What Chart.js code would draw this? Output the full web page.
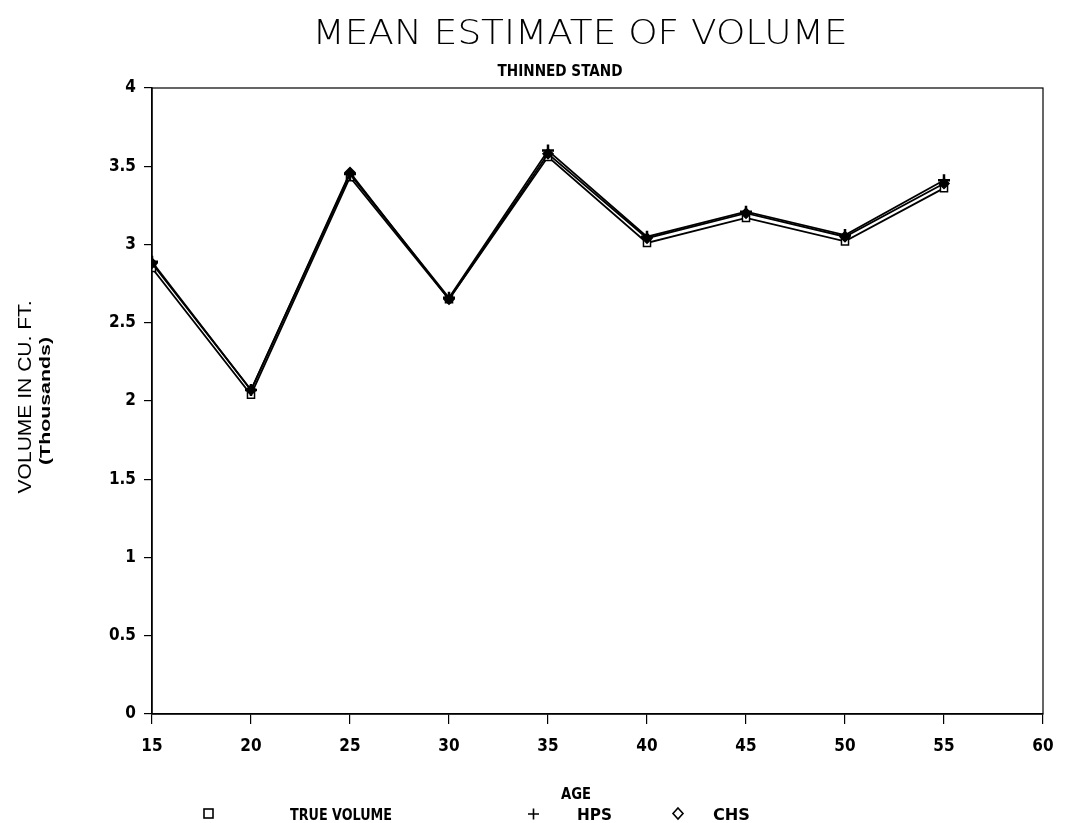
<!DOCTYPE html>
<html><head><meta charset="utf-8">
<script src="https://cdn.jsdelivr.net/npm/chart.js@4"></script>
<style>html,body{margin:0;padding:0;background:#fff}#wrap{width:1083px;height:823px}</style>
</head><body><div id="wrap"><canvas id="c" width="1083" height="823"></canvas></div>
<script>
const ages = [15, 20, 25, 30, 35, 40, 45, 50, 55];
const trueVolume = [2.85, 2.04, 3.43, 2.65, 3.56, 3.01, 3.17, 3.02, 3.36];
const hps = [2.89, 2.07, 3.45, 2.66, 3.60, 3.05, 3.21, 3.06, 3.41];
const chs = [2.88, 2.07, 3.46, 2.65, 3.58, 3.04, 3.20, 3.05, 3.39];
const xTickValues = [15, 20, 25, 30, 35, 40, 45, 50, 55, 60];
const yTickValues = [0, 0.5, 1, 1.5, 2, 2.5, 3, 3.5, 4];
const yTickLabels = ['0', '0.5', '1', '1.5', '2', '2.5', '3', '3.5', '4'];
const titleText = 'MEAN ESTIMATE OF VOLUME';
const subtitleText = 'THINNED STAND';
const yTitle1 = 'VOLUME IN CU. FT.';
const yTitle2 = '(Thousands)';
const xTitle = 'AGE';
const seriesNames = ['TRUE VOLUME', 'HPS', 'CHS'];

const NARROW = "'Liberation Sans Narrow','DejaVu Sans Condensed','Arial Narrow','Liberation Sans',sans-serif";

function pts(vals){ return ages.map((a,i)=>({x:a, y:vals[i]})); }

function fitText(ctx, text, cx, cy, width, font, rot){
  ctx.save();
  ctx.font = font;
  const w = ctx.measureText(text).width;
  ctx.translate(cx, cy);
  if (rot) ctx.rotate(rot);
  ctx.scale(width / w, 1);
  ctx.textAlign = 'center';
  ctx.textBaseline = 'alphabetic';
  ctx.fillStyle = '#000';
  ctx.fillText(text, 0, 0);
  ctx.restore();
}

const decor = {
  id: 'decor',
  afterDraw(chart){
    const ctx = chart.ctx;
    const a = chart.chartArea;
    ctx.save();
    ctx.strokeStyle = '#000';
    ctx.lineWidth = 1.2;
    ctx.strokeRect(a.left, a.top, a.right - a.left, a.bottom - a.top);
    ctx.restore();
    fitText(ctx, titleText, 580, 44, 535, "200 34px 'DejaVu Sans','Liberation Sans',sans-serif");
    fitText(ctx, subtitleText, 560, 76, 125, "bold 15px " + NARROW);
    fitText(ctx, yTitle1, 31, 397, 193, "18px 'Liberation Sans',sans-serif", -Math.PI/2);
    fitText(ctx, yTitle2, 50, 401, 128, "bold 15px 'Liberation Sans',sans-serif", -Math.PI/2);
    fitText(ctx, xTitle, 576, 799, 30, "bold 16px " + NARROW);
    // legend
    ctx.save();
    ctx.strokeStyle = '#000';
    ctx.lineWidth = 1.6;
    ctx.strokeRect(204, 809, 9, 9);
    ctx.beginPath();
    ctx.moveTo(528, 814); ctx.lineTo(539, 814);
    ctx.moveTo(533.5, 808.5); ctx.lineTo(533.5, 819.5);
    ctx.stroke();
    ctx.beginPath();
    ctx.moveTo(678, 808); ctx.lineTo(683, 813.5); ctx.lineTo(678, 819); ctx.lineTo(673, 813.5); ctx.closePath();
    ctx.stroke();
    ctx.restore();
    ctx.save();
    ctx.fillStyle = '#000';
    ctx.font = "bold 16px " + NARROW;
    ctx.textBaseline = 'alphabetic';
    ctx.textAlign = 'left';
    const leg = [[seriesNames[0], 290, 102], [seriesNames[1], 577, 35], [seriesNames[2], 713, 37]];
    leg.forEach(([t, x, w]) => {
      const mw = ctx.measureText(t).width;
      ctx.save(); ctx.translate(x, 820); ctx.scale(w / mw, 1); ctx.fillText(t, 0, 0); ctx.restore();
    });
    ctx.restore();
  }
};

new Chart(document.getElementById('c'), {
  type: 'line',
  data: {
    datasets: [
      { label: seriesNames[0], data: pts(trueVolume), borderColor: '#000', borderWidth: 1.8,
        pointStyle: 'rect', pointRadius: 5, pointBorderColor: '#000', pointBackgroundColor: '#fff', pointBorderWidth: 1.5, order: 3 },
      { label: seriesNames[1], data: pts(hps), borderColor: '#000', borderWidth: 1.8,
        pointStyle: 'cross', pointRadius: 6, pointBorderColor: '#000', pointBorderWidth: 2.5, order: 1 },
      { label: seriesNames[2], data: pts(chs), borderColor: '#000', borderWidth: 1.8,
        pointStyle: 'rectRot', pointRadius: 5, pointBorderColor: '#000', pointBackgroundColor: '#000', pointBorderWidth: 1.5, order: 2 }
    ]
  },
  options: {
    responsive: false,
    animation: false,
    devicePixelRatio: 1,
    layout: { padding: { left: 0, right: 40, top: 88, bottom: 0 } },
    plugins: { legend: { display: false }, title: { display: false }, tooltip: { enabled: false } },
    scales: {
      x: {
        type: 'linear', min: 15, max: 60,
        afterBuildTicks: s => { s.ticks = xTickValues.map(v => ({ value: v })); },
        afterFit: s => { s.height = 109; },
        ticks: { color: '#000', padding: 12, maxRotation: 0, font: { family: NARROW, size: 17, weight: 'bold' },
          callback: v => String(v) },
        grid: { display: true, drawOnChartArea: false, drawTicks: true, tickLength: 10, color: '#000', lineWidth: 1.2 },
        border: { display: true, color: '#000', width: 1.5 }
      },
      y: {
        type: 'linear', min: 0, max: 4,
        afterBuildTicks: s => { s.ticks = yTickValues.map(v => ({ value: v })); },
        afterFit: s => { s.width = 152; },
        ticks: { color: '#000', padding: 8, font: { family: NARROW, size: 17, weight: 'bold' },
          callback: v => { const i = yTickValues.indexOf(v); return i >= 0 ? yTickLabels[i] : String(v); } },
        grid: { display: true, drawOnChartArea: false, drawTicks: true, tickLength: 8, color: '#000', lineWidth: 1.2 },
        border: { display: true, color: '#000', width: 1.5 }
      }
    }
  },
  plugins: [decor]
});
</script></body></html>
